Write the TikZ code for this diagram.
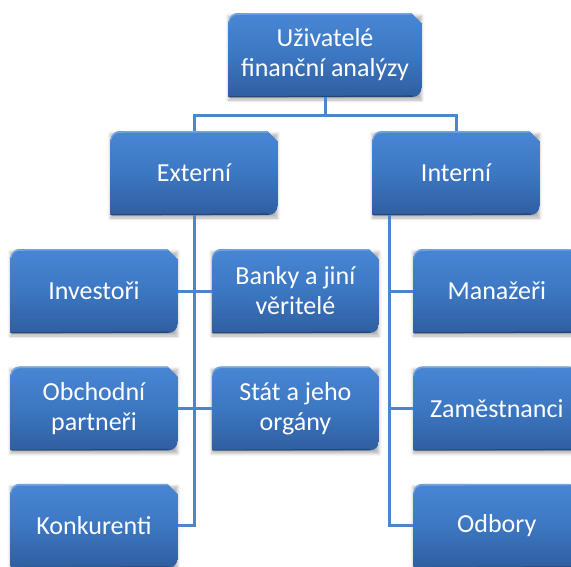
\documentclass[tikz,border=0pt]{standalone}
\usepackage{fontspec}
\setmainfont{Carlito}
\usetikzlibrary{positioning, shadows.blur}

\definecolor{boxtop}{RGB}{72,134,212}
\definecolor{boxmid}{RGB}{60,119,194}
\definecolor{boxbot}{RGB}{48,94,160}
\definecolor{linkblue}{RGB}{78,132,205}

\begin{document}
\begin{tikzpicture}[
  x=1pt, y=1pt,
  node distance=33pt and 34pt,
  unitbox/.style={
    rectangle, minimum width=167pt, minimum height=84pt, inner sep=2pt,
    align=center, text=white, font=\fontsize{26}{30}\selectfont,
    blur shadow={shadow xshift=0pt, shadow yshift=-3pt, shadow blur radius=3pt, shadow opacity=30},
    path picture={
      \shade[top color=boxtop, bottom color=boxbot, middle color=boxmid]
        (path picture bounding box.south west)
        -- ([yshift=-9pt]path picture bounding box.north west)
        arc[start angle=180, end angle=90, radius=9pt]
        -- ([xshift=-10pt]path picture bounding box.north east)
        -- ([yshift=-10pt]path picture bounding box.north east)
        -- ([yshift=9pt]path picture bounding box.south east)
        arc[start angle=0, end angle=-90, radius=9pt]
        -- cycle;
      \draw[white, opacity=0.25, line width=1.5pt]
        ([yshift=-10pt]path picture bounding box.north west)
        arc[start angle=180, end angle=90, radius=9pt]
        -- ([xshift=-10pt, yshift=-0.8pt]path picture bounding box.north east);
      \draw[black, opacity=0.25, line width=1.5pt]
        ([xshift=1pt]path picture bounding box.south west)
        -- ([xshift=-9pt, yshift=0.8pt]path picture bounding box.south east);
    }
  },
  link/.style={draw=linkblue, line width=3pt},
]

\useasboundingbox (0,0) rectangle (571,-566);

\node[name=root, unitbox, minimum width=193pt] at (325,-55) {Uživatelé\\finanční analýzy};
\node[name=ext, unitbox] at (194,-173) {Externí};
\node[name=int, unitbox] at (456,-173) {Interní};

\node[name=inv, unitbox] at (94,-291) {Investoři};
\node[name=banky, unitbox, right=of inv] {Banky a jiní\\věritelé};
\node[name=obch, unitbox, below=of inv] {Obchodní\\partneři};
\node[name=stat, unitbox, right=of obch] {Stát a jeho\\orgány};
\node[name=konk, unitbox, below=of obch] {Konkurenti};

\node[name=man, unitbox, right=of banky] {Manažeři};
\node[name=zam, unitbox, right=of stat] {Zaměstnanci};
\node[name=odb, unitbox, below=of zam] {Odbory};

\coordinate (fork) at ([yshift=-18pt]root.south);
\coordinate (rtrunk) at ([xshift=-67pt]int.south);

\draw[link] (root.south) -- (fork);
\draw[link] (ext.north) |- (fork) -| (int.north);
\draw[link] (ext.south) |- (konk.east);
\draw[link] (inv.east) -- (banky.west);
\draw[link] (obch.east) -- (stat.west);
\draw[link] (rtrunk) |- (odb.west);
\draw[link] (man.west) -- (man.west -| rtrunk);
\draw[link] (zam.west) -- (zam.west -| rtrunk);
\end{tikzpicture}
\end{document}
